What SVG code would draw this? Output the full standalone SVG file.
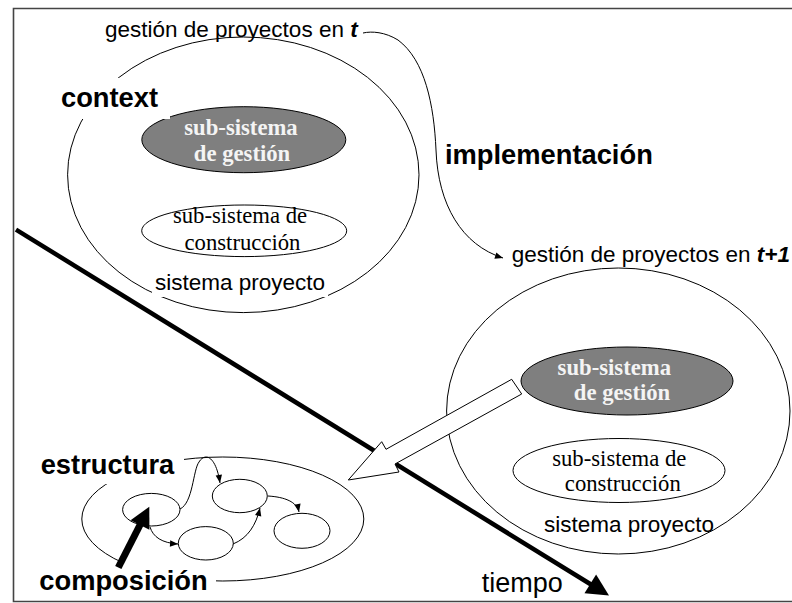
<svg xmlns="http://www.w3.org/2000/svg" width="792" height="603" viewBox="0 0 792 603">
<defs>
<style>
.sans{font-family:"Liberation Sans",Arial,sans-serif;font-size:22.5px;fill:#000}
.big{font-family:"Liberation Sans",Arial,sans-serif;font-size:27px;fill:#000}
.bold{font-family:"Liberation Sans",Arial,sans-serif;font-size:27.3px;font-weight:bold;fill:#000}
.serif{font-family:"Liberation Serif","Times New Roman",serif;font-size:22.7px;fill:#000;text-anchor:middle}
.serifb{font-family:"Liberation Serif","Times New Roman",serif;font-size:22.7px;font-weight:bold;fill:#f4f4f4;text-anchor:middle}
.line{fill:none;stroke:#000;stroke-width:1}
.gray{fill:#7f7f7f;stroke:#000;stroke-width:1}
.white{fill:#fff;stroke:#000;stroke-width:1}
.mask{fill:#fff;stroke:none}
.conn{fill:none;stroke:#000;stroke-width:1;marker-end:url(#ah)}
</style>
<marker id="ah" viewBox="0 0 10 10" refX="10" refY="5" markerWidth="9" markerHeight="8" markerUnits="userSpaceOnUse" orient="auto"><path d="M0,1 L10,5 L0,9 z" fill="#000"/></marker>
</defs>
<rect width="792" height="603" fill="#fff"/>
<path d="M792,8.5 H13.5 V601.5 H792" fill="none" stroke="#444" stroke-width="1.6"/>

<g id="system-t">
<ellipse class="line" cx="243.3" cy="174.8" rx="175.7" ry="137.8"/>
<rect class="mask" x="152" y="270" width="176" height="27"/>
<text class="sans" x="105" y="37">gestión de proyectos en <tspan font-weight="bold" font-style="italic">t</tspan></text>
<text class="sans" x="155" y="290">sistema proyecto</text>
</g>
<g id="gestion-t">
<ellipse class="gray" cx="243.8" cy="139.7" rx="102" ry="33"/>
<text class="serifb" x="241" y="135">sub-sistema</text>
<text class="serifb" x="242" y="161">de gestión</text>
</g>
<g id="context-label">
<rect class="mask" x="55" y="78" width="115" height="41"/>
<text class="bold" x="61" y="107">context</text>
</g>
<g id="construccion-t">
<ellipse class="white" cx="244.2" cy="230.8" rx="102.5" ry="25.8"/>
<text class="serif" x="240" y="223">sub-sistema de</text>
<text class="serif" x="242.5" y="250">construcción</text>
</g>

<g id="system-t1">
<ellipse class="line" cx="618.3" cy="411" rx="171.7" ry="143"/>
<text class="sans" x="511.7" y="262">gestión de proyectos en <tspan font-weight="bold" font-style="italic">t+1</tspan></text>
<text class="sans" x="544" y="531.7">sistema proyecto</text>
</g>
<g id="gestion-t1">
<ellipse class="gray" cx="627" cy="381" rx="106" ry="34"/>
<text class="serifb" x="614.3" y="375">sub-sistema</text>
<text class="serifb" x="622" y="400">de gestión</text>
</g>
<g id="construccion-t1">
<ellipse class="white" cx="619" cy="470.5" rx="106" ry="32"/>
<text class="serif" x="619.3" y="465.7">sub-sistema de</text>
<text class="serif" x="622.8" y="490.7">construcción</text>
</g>

<g id="implementacion-label">
<text class="bold" x="445" y="164">implementación</text>
</g>

<g id="estructura">
<ellipse class="line" cx="222.8" cy="519" rx="141" ry="62"/>
<rect class="mask" x="36" y="444" width="148" height="40"/>
<rect class="mask" x="34" y="561" width="182" height="39"/>
<text class="bold" x="40.7" y="474">estructura</text>
<text class="bold" x="39.3" y="590">composición</text>
</g>
<g id="e1"><ellipse class="line" cx="151.3" cy="509.7" rx="28.7" ry="16.3"/></g>
<g id="e2"><ellipse class="line" cx="239.8" cy="496" rx="27.5" ry="16.7"/></g>
<g id="e3"><ellipse class="line" cx="205.8" cy="543.3" rx="27.5" ry="16.7"/></g>
<g id="e4"><ellipse class="line" cx="302" cy="530.8" rx="28" ry="17.5"/></g>

<g id="tiempo-label">
<text class="big" x="481.7" y="591.7">tiempo</text>
</g>

<g id="connectors">
<path class="conn" d="M363,33 C372,31 385,32 398,40 C425,60 434,105 436,150 C438,205 462,245 503,258"/>
<path class="conn" d="M180,509 C193,503 193,470 199,462 C205,452 216,456 220,483"/>
<path class="conn" d="M150,527 C153,537 162,543 178,544"/>
<path class="conn" d="M233,544 C248,538 256,525 260,508"/>
<path class="conn" d="M268,496 C285,497 297,502 299,512"/>
<line x1="16" y1="229.6" x2="591" y2="584.5" stroke="#000" stroke-width="4.5"/>
<polygon points="609,595.4 584.5,593.3 596.1,574.5" fill="#000"/>
<polygon points="511.7,379.3 386,449.3 381.7,441.7 348.3,480 399,472 395,464 521.7,394" fill="#fff" stroke="#000" stroke-width="1"/>
<line x1="118.3" y1="567.5" x2="141" y2="523" stroke="#000" stroke-width="7"/>
<polygon points="149.3,506.7 130.6,520.2 149.4,529.8" fill="#000"/>
</g>
</svg>
